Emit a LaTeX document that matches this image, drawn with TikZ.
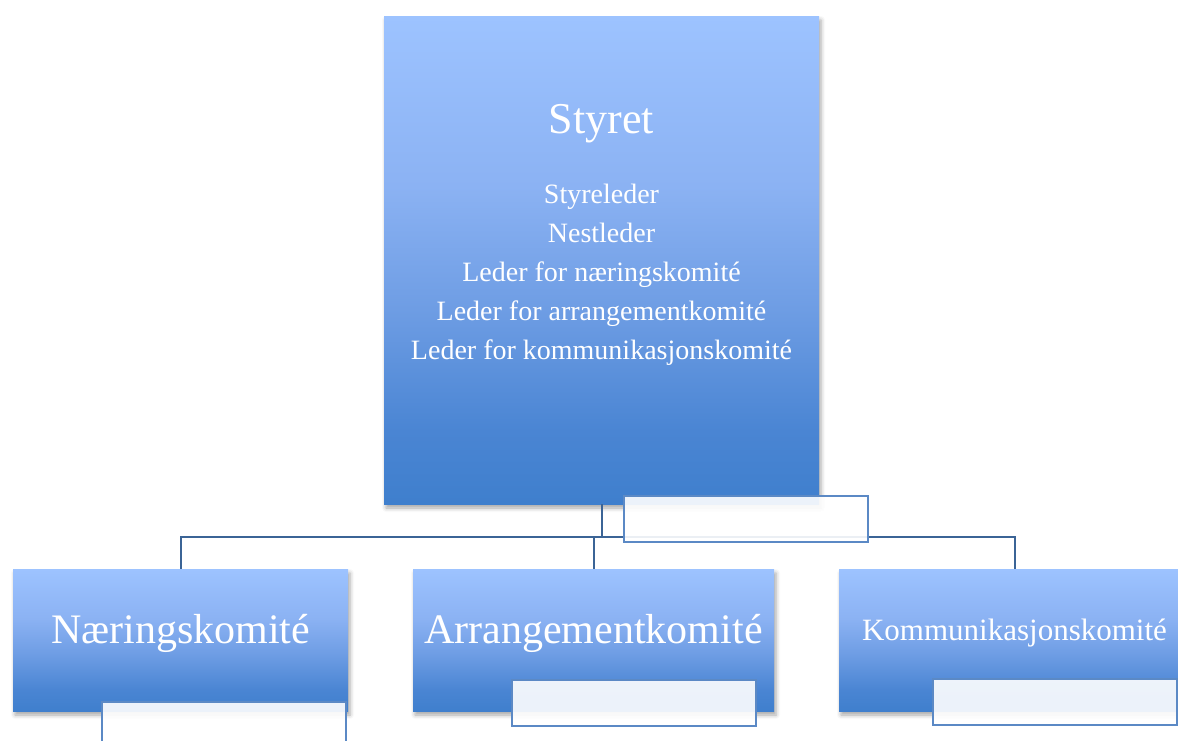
\documentclass[tikz,border=0pt]{standalone}
\usepackage{fontspec}
\setmainfont{Liberation Serif}
\usetikzlibrary{shadows,shadows.blur}
\definecolor{bdark}{HTML}{3F7FCD}
\definecolor{bmid1}{HTML}{4A85D3}
\definecolor{bmid2}{HTML}{6E9DE4}
\definecolor{bmid3}{HTML}{8BB2F3}
\definecolor{blight}{HTML}{9DC3FF}
\definecolor{conncol}{HTML}{3B6496}
\definecolor{tboxcol}{HTML}{5B89C5}
\pgfdeclareverticalshading{wordblue}{100bp}{color(0bp)=(bdark); color(25bp)=(bdark); color(32.5bp)=(bmid1); color(45bp)=(bmid2); color(57.5bp)=(bmid3); color(75bp)=(blight); color(100bp)=(blight)}
\tikzset{
  orgbox/.style={shading=wordblue, inner sep=0pt, outer sep=0pt,
    blur shadow={shadow xshift=2pt, shadow yshift=-4pt, shadow blur radius=4pt, shadow opacity=35}},
  tbox/.style={draw=tboxcol, line width=2pt, fill=white, fill opacity=0.9, text opacity=1,
    minimum width=244pt, minimum height=46pt, inner sep=0pt, outer sep=0pt},
  conn/.style={draw=conncol, line width=2pt},
  lbl/.style={text=white, anchor=base, inner sep=0pt}
}
\begin{document}
\begin{tikzpicture}[x=1pt,y=-1pt]
\useasboundingbox (0,0) rectangle (1178,740);
\clip (0,0) rectangle (1178,740);
\coordinate (bus) at (601.5,537);
\node[orgbox, minimum width=435pt, minimum height=488pt] (styret) at (601.5,260) {};
\node[orgbox, minimum width=335pt, minimum height=142pt] (naering) at (180.5,640) {};
\node[orgbox, minimum width=361pt, minimum height=142pt] (arr) at (593.5,640) {};
\node[orgbox, minimum width=352pt, minimum height=142pt] (komm) at (1015,640) {};
% connectors
\draw[conn] (styret.south) -- (bus);
\draw[conn] (naering.north) -- (naering.north |- bus) -- (komm.north |- bus) -- (komm.north);
\draw[conn] (arr.north) -- (arr.north |- bus);
% labels
\node[lbl, font=\fontsize{44}{50}\selectfont] (tStyret) at (601.5,133) {Styret};
\node[lbl, font=\fontsize{28}{32}\selectfont] (t1) at (601.5,203) {Styreleder};
\node[lbl, font=\fontsize{28}{32}\selectfont] (t2) at (601.5,242) {Nestleder};
\node[lbl, font=\fontsize{28}{32}\selectfont] (t3) at (601.5,281) {Leder for næringskomité};
\node[lbl, font=\fontsize{28}{32}\selectfont] (t4) at (601.5,320) {Leder for arrangementkomité};
\node[lbl, font=\fontsize{28}{32}\selectfont] (t5) at (601.5,359) {Leder for kommunikasjonskomité};
\node[lbl, font=\fontsize{42}{48}\selectfont] (tNaering) at (180.5,643) {Næringskomité};
\node[lbl, font=\fontsize{42}{48}\selectfont] (tArr) at (593.5,643) {Arrangementkomité};
\node[lbl, font=\fontsize{31}{36}\selectfont] (tKomm) at (1014.5,640) {Kommunikasjonskomité};
% text boxes
\node[tbox] (bStyret) at (746,519) {};
\node[tbox] (bNaering) at (223.5,725) {};
\node[tbox] (bArr) at (633.5,703) {};
\node[tbox] (bKomm) at (1055,702) {};
\end{tikzpicture}
\end{document}
